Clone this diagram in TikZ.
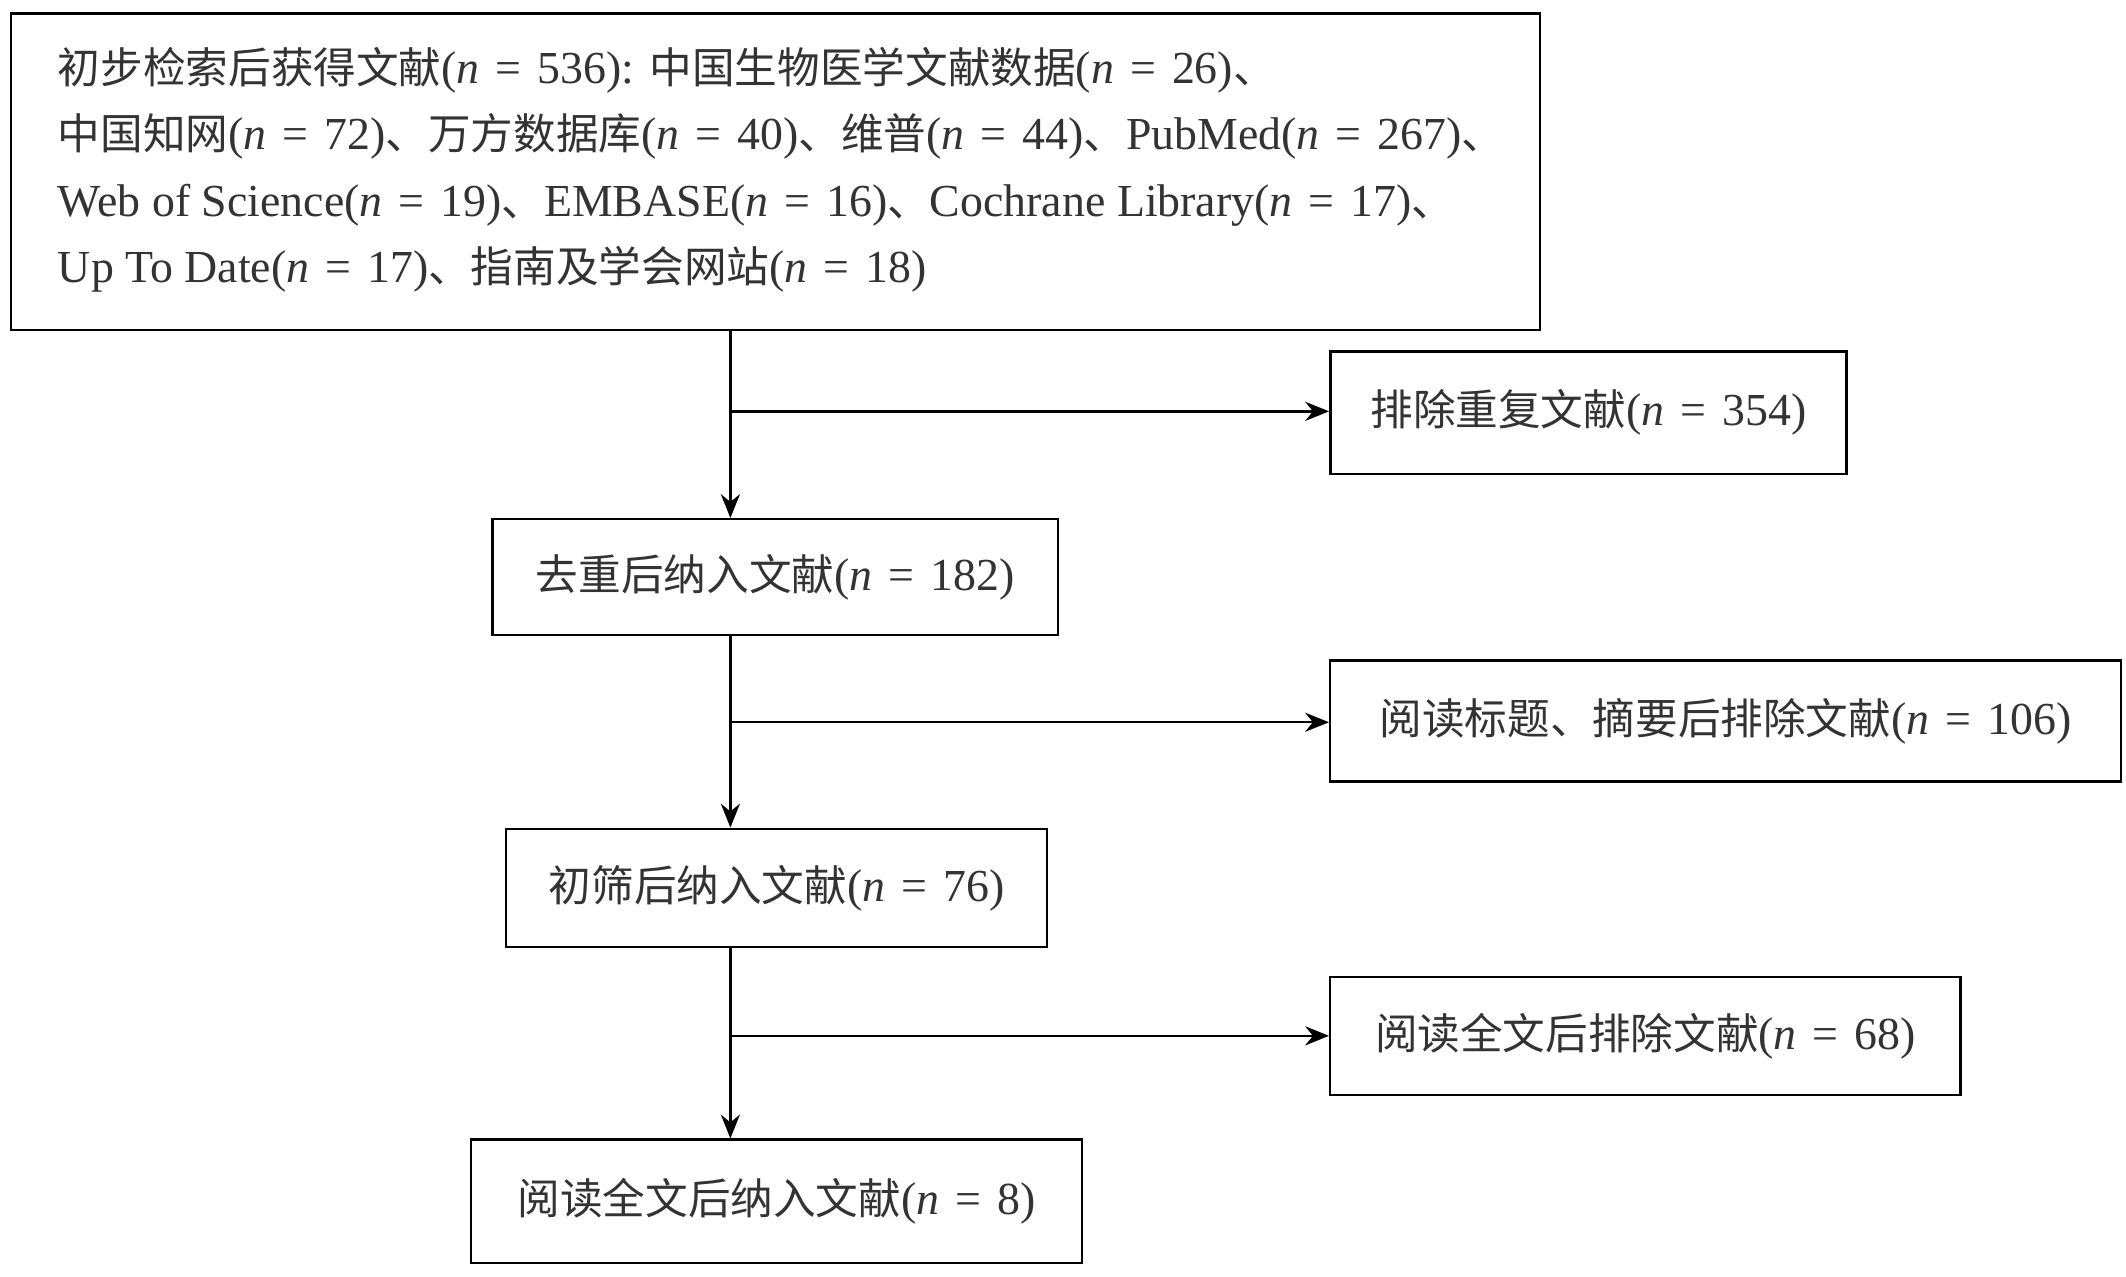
\documentclass[tikz,border=0pt]{standalone}
\usepackage{fontspec}
\setmainfont{Liberation Serif}
\newfontfamily\cjk{Noto Sans CJK SC}[Scale=0.93]
\usetikzlibrary{arrows.meta,positioning}
\definecolor{inkgray}{gray}{0.2}
\tikzset{
	box/.style = {draw, line width=0.5pt, inner sep=0pt, text=inkgray, font=\fontsize{9.6}{13.9}\selectfont},
	flow/.style = {line width=0.5pt, -{Stealth[length=5pt, width=4pt]}},
}
\newcommand{\nn}[1]{(\textit{n}\hspace{0.35em}=\hspace{0.35em}#1)}
\begin{document}
\begin{tikzpicture}[x=0.01cm, y=-0.01cm]
	\useasboundingbox (0,0) rectangle (1566,940);
	% boxes
	\node[box, minimum width=11.26cm, minimum height=2.33cm, anchor=north west] (found) at (7,9) {};
	\node[text=inkgray, font=\fontsize{9.6}{13.9}\selectfont, align=left, anchor=north west, inner sep=0pt] (foundtxt) at (42,34) {%
		{\cjk 初步检索后获得文献}\nn{536}: {\cjk 中国生物医学文献数据}\nn{26}{\cjk 、}\\
		{\cjk 中国知网}\nn{72}{\cjk 、万方数据库}\nn{40}{\cjk 、维普}\nn{44}{\cjk 、}PubMed\nn{267}{\cjk 、}\\
		Web of Science\nn{19}{\cjk 、}EMBASE\nn{16}{\cjk 、}Cochrane Library\nn{17}{\cjk 、}\\
		Up To Date\nn{17}{\cjk 、指南及学会网站}\nn{18}};
	\node[box, minimum width=3.80cm, minimum height=0.90cm] (dup) at (1170,304) {{\cjk 排除重复文献}\nn{354}};
	\node[box, minimum width=4.16cm, minimum height=0.85cm] (dedup) at (571,425) {{\cjk 去重后纳入文献}\nn{182}};
	\node[box, minimum width=5.82cm, minimum height=0.89cm] (abs) at (1271,531) {{\cjk 阅读标题、摘要后排除文献}\nn{106}};
	\node[box, minimum width=3.98cm, minimum height=0.87cm] (screen) at (572,654) {{\cjk 初筛后纳入文献}\nn{76}};
	\node[box, minimum width=4.64cm, minimum height=0.87cm] (full) at (1212,763) {{\cjk 阅读全文后排除文献}\nn{68}};
	\node[box, minimum width=4.50cm, minimum height=0.91cm] (final) at (572,885) {{\cjk 阅读全文后纳入文献}\nn{8}};
	% connectors
	\coordinate (s1) at (538,242);
	\coordinate (b1) at (538,303);
	\coordinate (s2) at (538,468);
	\coordinate (b2) at (538,532);
	\coordinate (s3) at (538,698);
	\coordinate (b3) at (538,763);
	\draw[flow] (s1) -- (s1 |- dedup.north);
	\draw[flow] (b1) -- (b1 -| dup.west);
	\draw[flow] (s2) -- (s2 |- screen.north);
	\draw[flow] (b2) -- (b2 -| abs.west);
	\draw[flow] (s3) -- (s3 |- final.north);
	\draw[flow] (b3) -- (b3 -| full.west);
\end{tikzpicture}
\end{document}
